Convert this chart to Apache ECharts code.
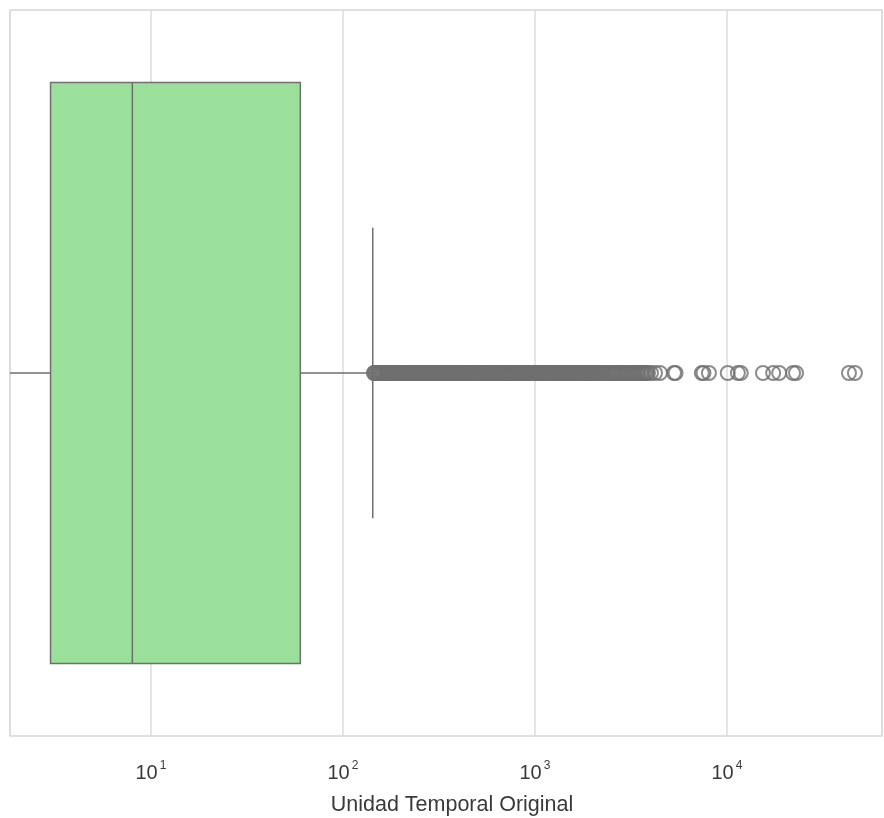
<!DOCTYPE html>
<html>
<head>
<meta charset="utf-8">
<script src="https://cdn.jsdelivr.net/npm/echarts@6/dist/echarts.min.js"></script>
<style>
  html, body { margin: 0; padding: 0; background: #fff; }
  #box { width: 884px; height: 818px; }
</style>
</head>
<body>
<div id="box"></div>
<script>
// five-number summary: [whisker low, q1, median, q3, whisker high]
var boxStats = [1, 3, 8, 60, 143];
// outliers above the upper whisker (dense band up to ~2000, then sparse)
var outliers = [
  145, 148, 152, 156, 160, 163, 167, 171, 175, 180, 184, 189, 193, 198, 203,
  208, 213, 218, 223, 229, 234, 240, 246, 252, 258, 264, 271, 277, 284, 291,
  298, 305, 313, 320, 328, 336, 344, 353, 361, 370, 379, 388, 398, 407, 417,
  427, 438, 448, 459, 470, 482, 494, 506, 518, 530, 543, 556, 570, 584, 598,
  612, 627, 642, 658, 674, 690, 707, 724, 741, 759, 778, 796, 816, 835, 856,
  876, 898, 919, 942, 964, 988, 1010, 1040, 1060, 1090, 1110, 1140, 1170, 1200,
  1230, 1260, 1290, 1320, 1350, 1380, 1420, 1450, 1490, 1520, 1560, 1600, 1640,
  1680, 1720, 1760, 1800, 1850, 1890, 1940, 1990, 2040, 2080, 2130, 2190, 2240,
  146, 150, 154, 158, 161, 165, 169, 173, 178, 182, 186, 191, 196, 201, 206,
  211, 216, 221, 226, 232, 237, 243, 249, 255, 261, 268, 274, 281, 288, 295,
  302, 309, 317, 324, 332, 340, 349, 357, 366, 375, 384, 393, 403, 412, 422,
  433, 443, 454, 465, 476, 488, 500, 512, 524, 537, 550, 563, 577, 591, 605,
  620, 635, 650, 666, 682, 699, 716, 733, 750, 769, 787, 806, 826, 846, 866,
  887, 909, 931, 953, 976, 999, 1025, 1050, 1075, 1100, 1125, 1155, 1185, 1215,
  1245, 1275, 1305, 1335, 1365, 1400, 1435, 1470, 1505, 1540, 1580, 1620, 1660,
  1700, 1740, 1780, 1825, 1870, 1915, 1965, 2015, 2060, 2105, 2160, 2215,
  2270, 2320, 2370, 2420, 2470, 2520, 2565, 2610, 2660, 2710, 2760, 2810, 2860,
  2910, 2965, 3020, 3075, 3130, 3185, 3240, 3300, 3360, 3420, 3480, 3545, 3610,
  3675, 3740, 3810, 3880, 4020, 4220, 4480, 5300, 5400,
  7400, 7550, 8060, 10100, 11400, 11800, 15400, 17400, 18700, 22100, 22900,
  43200, 46400
];
var axisMin = 1.845;
var axisMax = 64200;

var chart = echarts.init(document.getElementById('box'));

var lineColor = '#6f6f6f';

function renderBox(params, api) {
  var y = api.value(0);
  var lo = api.coord([api.value(1), y]);
  var q1 = api.coord([api.value(2), y]);
  var med = api.coord([api.value(3), y]);
  var q3 = api.coord([api.value(4), y]);
  var hi = api.coord([api.value(5), y]);
  var band = api.size([0, 1])[1];
  var h = band * 0.8;
  var capH = h * 0.5;
  var cy = q1[1];
  var st = { stroke: lineColor, lineWidth: 1.5, fill: null };
  return {
    type: 'group',
    children: [
      { type: 'line', shape: { x1: lo[0], y1: cy, x2: q1[0], y2: cy }, style: st },
      { type: 'line', shape: { x1: q3[0], y1: cy, x2: hi[0], y2: cy }, style: st },
      { type: 'line', shape: { x1: hi[0], y1: cy - capH / 2, x2: hi[0], y2: cy + capH / 2 }, style: st },
      { type: 'line', shape: { x1: lo[0], y1: cy - capH / 2, x2: lo[0], y2: cy + capH / 2 }, style: st },
      { type: 'rect', shape: { x: q1[0], y: cy - h / 2, width: q3[0] - q1[0], height: h },
        style: { fill: '#9be09a', stroke: lineColor, lineWidth: 1.5 } },
      { type: 'line', shape: { x1: med[0], y1: cy - h / 2, x2: med[0], y2: cy + h / 2 }, style: st }
    ]
  };
}

var option = {
  animation: false,
  grid: {
    left: 10, right: 2, top: 10, bottom: 82,
    outerBoundsMode: 'none',
    show: true, borderColor: '#d6d6d6', borderWidth: 1.5, backgroundColor: '#fff'
  },
  xAxis: {
    type: 'log',
    min: axisMin,
    max: axisMax,
    logBase: 10,
    name: 'Unidad Temporal Original',
    nameLocation: 'middle',
    nameGap: 58,
    nameTextStyle: { fontFamily: 'Liberation Sans', fontSize: 21.5, color: '#3a3a3a', padding: [0, 0, 0, 12] },
    axisLine: { show: false },
    axisTick: { show: false },
    splitLine: { show: true, lineStyle: { color: '#dcdcdc', width: 1.5 } },
    axisLabel: {
      margin: 24,
      showMinLabel: false,
      showMaxLabel: false,
      formatter: function (v) {
        var e = Math.round(Math.log10(v));
        return '{b|10}{s|' + e + '}';
      },
      rich: {
        b: { fontFamily: 'Liberation Sans', fontSize: 20, color: '#3a3a3a' },
        s: { fontFamily: 'Liberation Sans', fontSize: 12, color: '#3a3a3a', padding: [0, 0, 14, 2] }
      }
    }
  },
  yAxis: {
    type: 'category',
    data: [''],
    axisLine: { show: false },
    axisTick: { show: false },
    axisLabel: { show: false },
    splitLine: { show: false }
  },
  series: [
    {
      type: 'custom',
      clip: true,
      renderItem: renderBox,
      encode: { x: [1, 2, 3, 4, 5], y: 0 },
      data: [[0].concat(boxStats)],
      z: 2
    },
    {
      type: 'scatter',
      symbol: 'circle',
      symbolSize: 14,
      itemStyle: { color: 'rgba(0,0,0,0)', borderColor: lineColor, borderWidth: 2 },
      data: outliers.map(function (v) { return [v, 0]; }),
      z: 3
    }
  ]
};

chart.setOption(option);
</script>
</body>
</html>
